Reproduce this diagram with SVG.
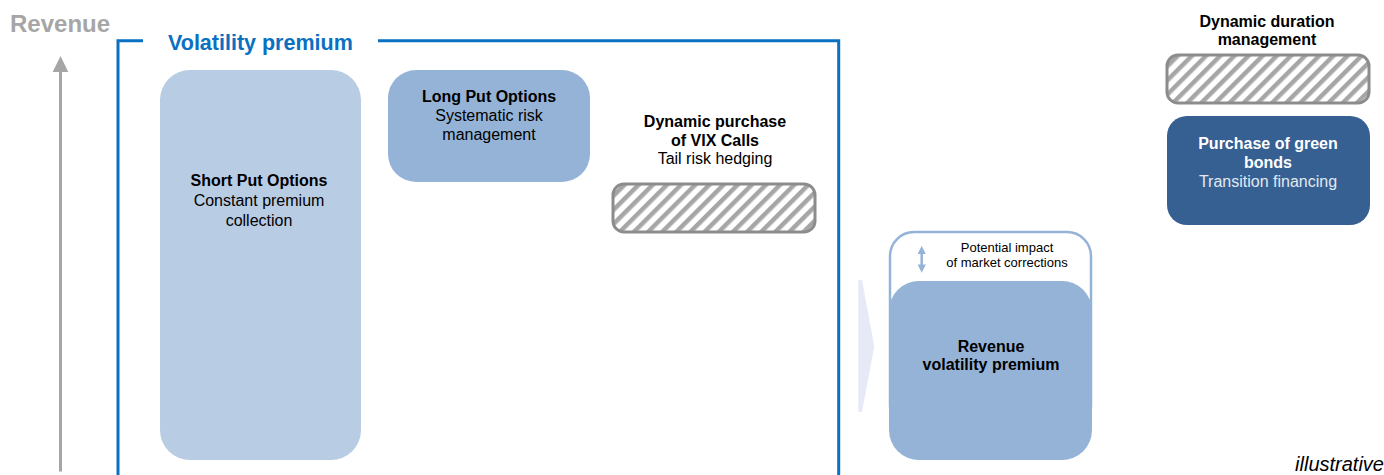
<svg xmlns="http://www.w3.org/2000/svg" width="1384" height="475" viewBox="0 0 1384 475">
<style>
text{font-family:"Liberation Sans",Arial,sans-serif;font-size:16px;fill:#000;text-anchor:middle}
.b{font-weight:bold}
.frame{fill:none;stroke:#0a70c2;stroke-width:3}
.hatch{fill:url(#hp);stroke:#8c8c8c;stroke-width:3}
</style>
<defs>
<pattern id="hp" patternUnits="userSpaceOnUse" width="10" height="10" patternTransform="rotate(45)">
<rect width="10" height="10" fill="#fff"/>
<rect x="0" y="0" width="4.5" height="10" fill="#a6a6a6"/>
</pattern>
<marker id="ah" viewBox="0 0 10 10" refX="5" refY="5" markerWidth="3.3" markerHeight="3.3" orient="auto-start-reverse">
<path d="M0,0 L10,5 L0,10 z" fill="#95b3d7"/>
</marker>
</defs>
<rect width="1384" height="475" fill="#fff"/>

<g id="axis">
<text x="10" y="32" class="b" style="font-size:24px;fill:#a6a6a6;text-anchor:start">Revenue</text>
</g>

<g id="frame-volatility">
<path class="frame" d="M118,475 V40.7 H143 M378,40.7 H838.7 V475"/>
<text x="168" y="50" class="b" style="font-size:21.5px;fill:#0a70c2;text-anchor:start">Volatility premium</text>
</g>

<g id="short-put">
<rect x="160" y="70" width="201" height="390" rx="30" fill="#b8cce4"/>
<text x="259" y="186" class="b">Short Put Options</text>
<text x="259" y="206">Constant premium</text>
<text x="259" y="226">collection</text>
</g>

<g id="long-put">
<rect x="388" y="70" width="202" height="112" rx="28" fill="#95b3d7"/>
<text x="489" y="102" class="b">Long Put Options</text>
<text x="489" y="121">Systematic risk</text>
<text x="489" y="140">management</text>
</g>

<g id="vix-calls">
<text x="715" y="127" class="b">Dynamic purchase</text>
<text x="715" y="146" class="b">of VIX Calls</text>
<text x="715" y="164">Tail risk hedging</text>
<rect class="hatch" x="613" y="184" width="202" height="48" rx="11"/>
</g>

<g id="revenue-volatility">
<rect x="890" y="232" width="201" height="198" rx="24" fill="#fff" stroke="#95b3d7" stroke-width="2.5"/>
<rect x="889" y="281" width="203" height="179" rx="30" fill="#95b3d7"/>
<text x="1007" y="252" style="font-size:13px">Potential impact</text>
<text x="1007" y="267" style="font-size:13px">of market corrections</text>
<text x="991" y="352" class="b">Revenue</text>
<text x="991" y="370" class="b">volatility premium</text>
</g>

<g id="duration">
<text x="1267" y="27" class="b">Dynamic duration</text>
<text x="1267" y="45" class="b">management</text>
<rect class="hatch" x="1167" y="55" width="202" height="48" rx="11"/>
</g>

<g id="green-bonds">
<rect x="1167" y="116" width="203" height="109" rx="20" fill="#366092"/>
<text x="1268" y="149" class="b" style="fill:#fff">Purchase of green</text>
<text x="1268" y="168" class="b" style="fill:#fff">bonds</text>
<text x="1268" y="187" style="fill:#e3e9f2">Transition financing</text>
</g>

<g id="connectors">
<line x1="60.5" y1="471.5" x2="60.5" y2="70" stroke="#a6a6a6" stroke-width="3"/>
<path d="M60.5,56 L68.3,72 L52.7,72 z" fill="#a6a6a6"/>
<path d="M858.3,280 L862,280 L874.3,346.5 L862,411.7 L858.3,411.7 z" fill="#e6eaf7"/>
<line x1="921.7" y1="250" x2="921.7" y2="268.5" stroke="#95b3d7" stroke-width="2.5" marker-start="url(#ah)" marker-end="url(#ah)"/>
</g>

<text x="1384" y="471" style="font-size:20px;font-style:italic;text-anchor:end">illustrative</text>
</svg>
